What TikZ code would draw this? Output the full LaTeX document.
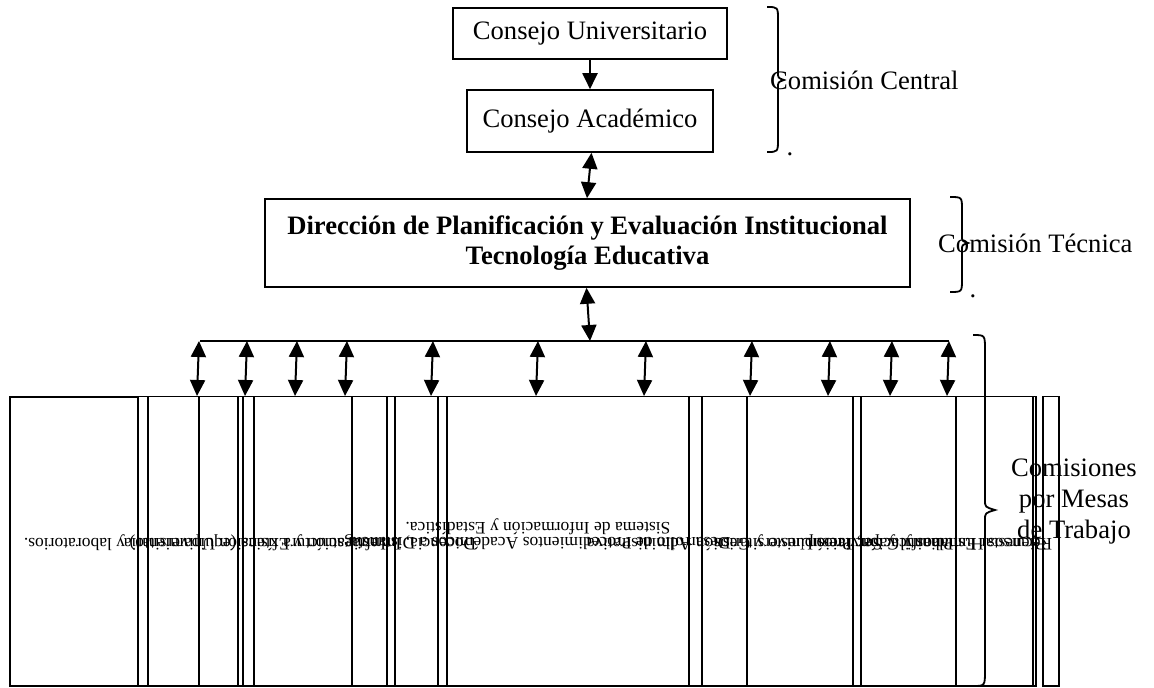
\documentclass[tikz,border=0pt]{standalone}
\usepackage{fontspec}
\setmainfont{Liberation Serif}
\usetikzlibrary{arrows.meta}
\begin{document}
\begin{tikzpicture}[x=1pt,y=-1pt,
  box/.style={draw,line width=1.6pt,inner sep=0pt,align=center},
  big/.style={font=\fontsize{26.6}{30}\selectfont},
  small/.style={font=\fontsize{17.5}{19}\selectfont},
  dbl/.style={line width=2pt,{Triangle[width=15pt,length=16pt]}-{Triangle[width=15pt,length=16pt]}},
  sgl/.style={line width=2pt,-{Triangle[width=15pt,length=16pt]}},
  brace/.style={line width=1.8pt},
  col/.style={draw,line width=1.4pt},
  bar/.style={line width=1.6pt}]
\useasboundingbox (0,0) rectangle (1154,688);
% top boxes
\node[box,big,minimum width=274pt,minimum height=51pt] (CU) at (590,33.5) {Consejo Universitario};
\node[box,big,minimum width=246pt,minimum height=62pt] (CA) at (590,121) {Consejo Académico};
\node[box,big,minimum width=645pt,minimum height=88pt] (DIR) at (587.5,243)
  {\bfseries Dirección de Planificación y Evaluación Institucional\\\bfseries Tecnología Educativa};
\draw[sgl] (CU) -- (CA);
\draw[dbl] ([xshift=1.5pt]CA.south) -- ([xshift=-0.5pt]DIR.north);
% bar
\coordinate (barL) at (200,341);
\coordinate (barR) at (949,341);
\coordinate (barM) at (590,341);
\draw[bar] (barL) -- (barR);
\draw[dbl] ([xshift=-1pt]DIR.south) -- (barM);
% braces and labels
\draw[brace] (767,7) .. controls (778,7) .. (778,20) -- (778,72) .. controls (778,78) .. (784,80)
  .. controls (778,82) .. (778,88) -- (778,139) .. controls (778,152) .. (767,152);
\node[big,anchor=base west,inner sep=0pt] (cc) at (770,89) {Comisión Central};
\node[big,anchor=base,inner sep=0pt] (d1) at (790,155) {.};
\draw[brace] (950,197) .. controls (962,197) .. (962,210) -- (962,236) .. controls (962,241) .. (968,243)
  .. controls (962,245) .. (962,250) -- (962,279) .. controls (962,292) .. (950,292);
\node[big,anchor=base west,inner sep=0pt] (ct) at (938,252) {Comisión Técnica};
\node[big,anchor=base,inner sep=0pt] (d2) at (973,297) {.};
% columns
\draw[col,line width=1.1pt] (10,397) rectangle (138,686);
\foreach \a/\b in {138/395,148/387,199/956,238/861,243/853,254/702,352/747,438/1033,447/1036,689/1036,1043/1059}
  \draw[col] (\a,396.5) rectangle (\b,686);
% arrows to columns
\foreach \x [count=\i] in {197,245,295,345,431,536,644,750,828,890,947}{
  \coordinate (u\i) at (\x+2,341);
  \coordinate (l\i) at (\x,396);
  \draw[dbl] (u\i) -- (l\i);
}
\draw[brace] (973,335) .. controls (985,335) .. (985,350) -- (985,500) .. controls (985,507) .. (995,510)
  .. controls (985,513) .. (985,520) -- (985,670) .. controls (985,686) .. (973,686);
\node[font=\fontsize{26.6}{31}\selectfont,align=center,inner sep=0pt] (cm) at (1074,502) {Comisiones\\por Mesas\\de Trabajo};
% upside-down texts
\node[small,rotate=180,inner sep=0pt] (m1) at (205,543) {Infraestructura física (equipamiento) y laboratorios.};
\node[small,rotate=180,inner sep=0pt] (m2) at (300,543) {Docencia, Investigación y Extensión Universitaria};
\node[small,rotate=180,inner sep=0pt] (m3) at (540,543) {Desarrollo de Procedimientos Académicos a Distancia};
\node[small,rotate=180,inner sep=0pt] (m3b) at (538,527) {Sistema de Información y Estadística.};
\node[small,rotate=180,inner sep=0pt] (m4) at (770,543) {Planificación, Presupuesto y Gestión Administrativa};
\node[small,rotate=180,inner sep=0pt] (m5) at (880,543) {Bienestar Estudiantil y Servicios Universitarios};
\node[small,rotate=180,inner sep=0pt] (m6) at (930,543) {Recursos Humanos y Capacitación};
\end{tikzpicture}
\end{document}
